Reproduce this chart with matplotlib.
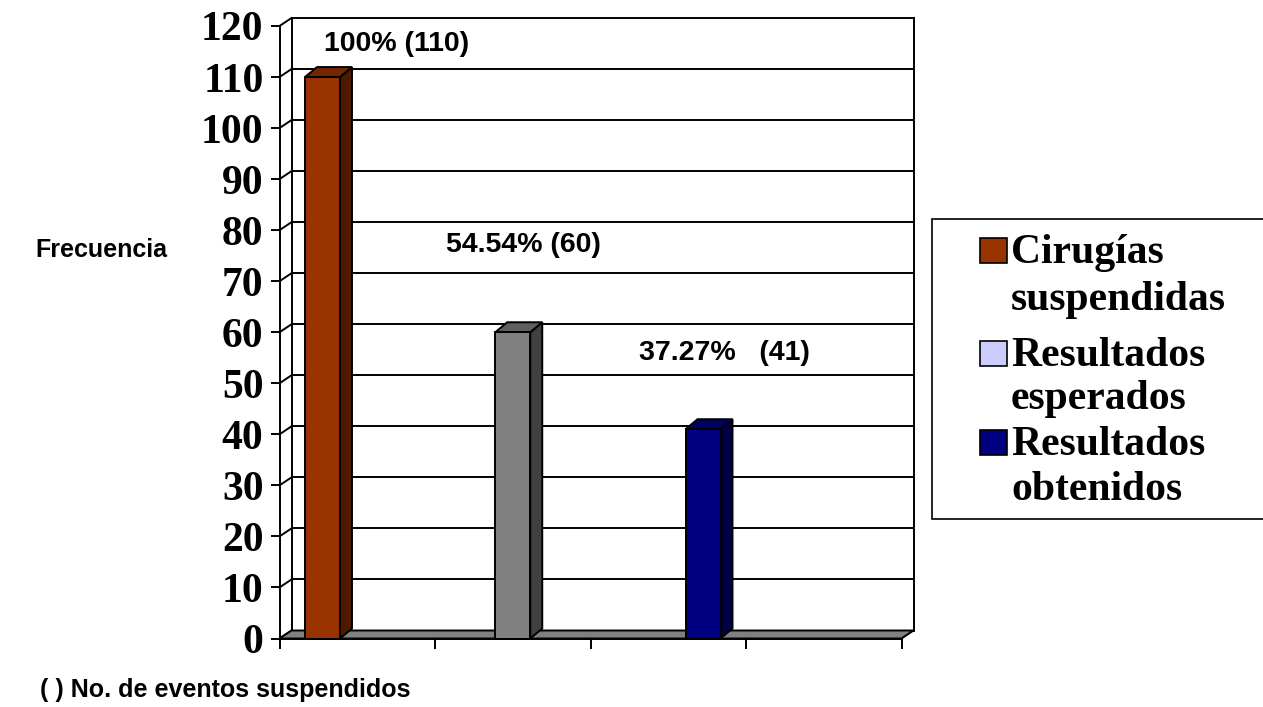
import matplotlib
matplotlib.use("Agg")
import matplotlib.pyplot as plt
from matplotlib.patches import Polygon, Rectangle

# Data
series = ["Cirugías\nsuspendidas", "Resultados\nesperados", "Resultados\nobtenidos"]
values = [110, 60, 41]
value_labels = ["100% (110)", "54.54% (60)", "37.27%   (41)"]
bar_colors = ["#993300", "#808080", "#000080"]
legend_colors = ["#993300", "#CCCCFF", "#000080"]
yticks = list(range(0, 121, 10))

W, H, DPI = 1263, 707, 100
fig = plt.figure(figsize=(W / DPI, H / DPI), dpi=DPI)
fig.patch.set_facecolor("white")

# front plane of the plot: x 0..4 (4 intervals), y 0..120
px_left, px_right = 279.5, 901.5
px_bottom, px_top = 638.5, 26.0
ax = fig.add_axes([px_left / W, (H - px_bottom) / H,
                   (px_right - px_left) / W, (px_bottom - px_top) / H])
ax.set_xlim(0, 4)
ax.set_ylim(0, 120)
ax.set_facecolor("none")

xu = (px_right - px_left) / 4.0      # pixels per x unit
yu = (px_bottom - px_top) / 120.0    # pixels per y unit

# depth offsets of the wall and bars
wdx, wdy = 12 / xu, 8 / yu
bdx, bdy = 12 / xu, 10 / yu

LW = 1.4

# back wall
ax.add_patch(Polygon([(wdx, wdy), (4 + wdx, wdy), (4 + wdx, 120 + wdy), (wdx, 120 + wdy)],
                     closed=True, facecolor="white", edgecolor="black", lw=LW,
                     clip_on=False, zorder=0.5))
for v in yticks[1:-1]:
    ax.plot([wdx, 4 + wdx], [v + wdy, v + wdy], color="black", lw=LW,
            clip_on=False, zorder=0.6, solid_capstyle="butt")
# side connectors from the front axis to the wall
for v in yticks:
    ax.plot([0, wdx], [v, v + wdy], color="black", lw=LW, clip_on=False, zorder=0.6)

# floor
ax.add_patch(Polygon([(0, 0), (4, 0), (4 + wdx, wdy), (wdx, wdy)], closed=True,
                     facecolor="#808080", edgecolor="black", lw=LW,
                     clip_on=False, zorder=0.7))


def shade(c, f):
    r, g, b = matplotlib.colors.to_rgb(c)
    return (r * f, g * f, b * f)


bar_w = 35 / xu
first_center = 0.2765
step = 1.2235
centers = [first_center + step * i for i in range(len(values))]

bars = ax.bar(centers, values, width=bar_w, color=bar_colors, edgecolor="black",
              linewidth=LW, zorder=2, clip_on=False)
for rect, c in zip(bars, bar_colors):
    x0 = rect.get_x()
    x1 = x0 + rect.get_width()
    h = rect.get_height()
    ax.add_patch(Polygon([(x1, 0), (x1 + bdx, bdy), (x1 + bdx, h + bdy), (x1, h)],
                         closed=True, facecolor=shade(c, 0.5), edgecolor="black",
                         lw=LW, clip_on=False, zorder=1.9))
    ax.add_patch(Polygon([(x0, h), (x1, h), (x1 + bdx, h + bdy), (x0 + bdx, h + bdy)],
                         closed=True, facecolor=shade(c, 0.75), edgecolor="black",
                         lw=LW, clip_on=False, zorder=1.9))

# value labels
label_shift = [(0.478, 6.4), (0.07, 17.0), (0.137, 14.9)]
for cx, v, txt, (sx, sy) in zip(centers, values, value_labels, label_shift):
    ax.text(cx + sx, v + sy, txt, ha="center", va="center", fontsize=20.5,
            fontweight="bold", family="Liberation Sans", zorder=3)

# front axes
for s in ("top", "right"):
    ax.spines[s].set_visible(False)
for s in ("left", "bottom"):
    ax.spines[s].set_linewidth(LW)
    ax.spines[s].set_zorder(2.5)
ax.set_yticks(yticks)
ax.set_yticklabels([str(t) for t in yticks], fontsize=30, fontweight="bold",
                   family="Liberation Serif")
ax.set_xticks([0, 1, 2, 3, 4])
ax.set_xticklabels([])
ax.tick_params(axis="y", direction="out", length=6.5, width=LW, pad=5)
ax.tick_params(axis="x", direction="out", length=7.5, width=LW)

fig.text(101 / W, 1 - 250 / H, "Frecuencia", ha="center", va="center",
         fontsize=18, fontweight="bold", family="Liberation Sans")
fig.text(40 / W, 1 - 690 / H, "( ) No. de eventos suspendidos", ha="left",
         va="center", fontsize=18, fontweight="bold", family="Liberation Sans")

# legend box (runs past the right edge of the figure)
fig.patches.append(Rectangle((932 / W, 1 - 519 / H), (1275 - 932) / W, (519 - 219) / H,
                             transform=fig.transFigure, facecolor="white",
                             edgecolor="black", lw=1.2))
line_baselines = [[263, 310], [366, 409], [455, 500]]
for baselines, name, c in zip(line_baselines, series, legend_colors):
    first = baselines[0]
    fig.patches.append(Rectangle((980 / W, 1 - first / H), 27 / W, 25 / H,
                                 transform=fig.transFigure, facecolor=c,
                                 edgecolor="black", lw=1.2))
    for yb, part in zip(baselines, name.split("\n")):
        fig.text(1011 / W, 1 - yb / H, part, ha="left", va="baseline", fontsize=30,
                 fontweight="bold", family="Liberation Serif")

fig.savefig("out.png", dpi=DPI, facecolor="white")
